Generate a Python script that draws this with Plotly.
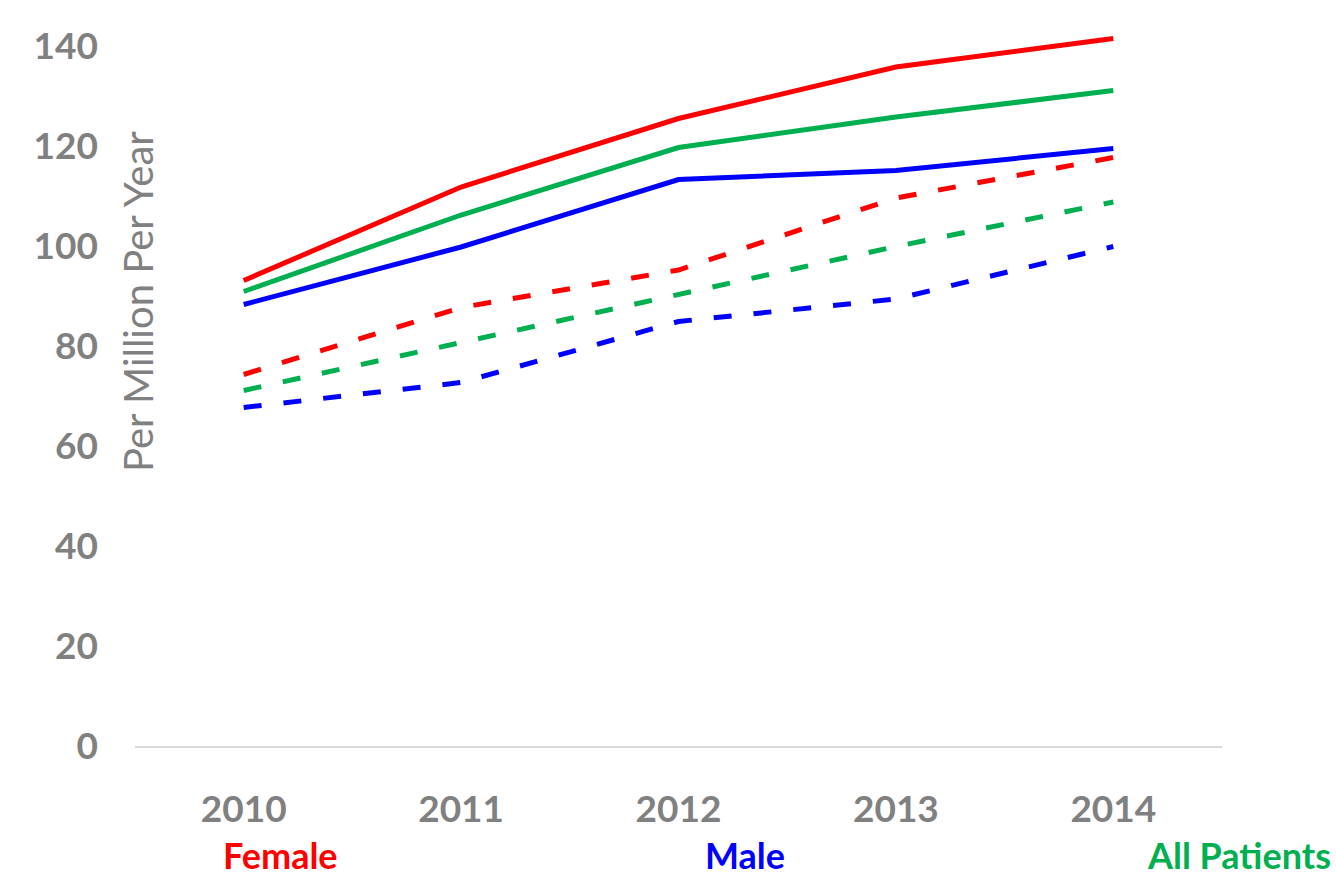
import plotly.graph_objects as go

years = ["2010", "2011", "2012", "2013", "2014"]

female_solid = [93.1, 111.8, 125.5, 135.8, 141.5]
all_solid = [90.9, 106.2, 119.7, 125.8, 131.1]
male_solid = [88.3, 99.8, 113.3, 115.1, 119.5]

female_dashed = [74.3, 87.7, 95.2, 109.6, 117.7]
all_dashed = [71.1, 80.7, 90.2, 99.9, 108.8]
male_dashed = [67.7, 72.7, 84.9, 89.4, 99.9]

y_ticks = [0, 20, 40, 60, 80, 100, 120, 140]

RED = "#FF0000"
GREEN = "#00B050"
BLUE = "#0000FF"
GRAY = "#808080"
FONT = "Lato"

fig = go.Figure()

series = [
    (female_dashed, RED, "18px,22px"),
    (all_dashed, GREEN, "18px,22px"),
    (male_dashed, BLUE, "18px,22px"),
    (female_solid, RED, "solid"),
    (all_solid, GREEN, "solid"),
    (male_solid, BLUE, "solid"),
]
for vals, col, dash in series:
    fig.add_trace(go.Scatter(
        x=years, y=vals, mode="lines",
        line=dict(color=col, width=5, dash=dash),
        showlegend=False, hoverinfo="skip",
    ))

fig.update_layout(
    width=1336, height=880,
    margin=dict(l=135, r=114, t=21, b=134),
    paper_bgcolor="white", plot_bgcolor="white",
    font=dict(family=FONT, color=GRAY),
    xaxis=dict(
        type="category", range=[-0.5, 4.5],
        showgrid=False, zeroline=False,
        showline=True, linecolor="#D9D9D9", linewidth=2,
        ticks="", ticklabelstandoff=30,
        tickfont=dict(family=FONT, size=37, color=GRAY, weight="bold"),
    ),
    yaxis=dict(
        range=[0, 145], tickvals=y_ticks,
        ticktext=[str(v) for v in y_ticks],
        showgrid=False, zeroline=False, showline=False,
        ticks="", ticklabelstandoff=36,
        tickfont=dict(family=FONT, size=37, color=GRAY, weight="bold"),
    ),
)

fig.add_annotation(
    text="Per Million Per Year", textangle=-90,
    xref="paper", yref="paper",
    x=(138 - 135) / 1087, y=(746 - 302) / 725,
    xanchor="center", yanchor="middle", showarrow=False,
    font=dict(family=FONT, size=40, color=GRAY),
)

labels = [("Female", RED, 280, "center"), ("Male", BLUE, 745, "center"),
          ("All Patients", GREEN, 1145, "left")]
for txt, col, px, anc in labels:
    fig.add_annotation(
        text=f"<b>{txt}</b>", xref="paper", yref="paper",
        x=(px - 135) / 1087, y=(746 - 879) / 725,
        xanchor=anc, yanchor="bottom", showarrow=False,
        font=dict(family=FONT, size=36, color=col),
    )

fig.write_html("out.html")
